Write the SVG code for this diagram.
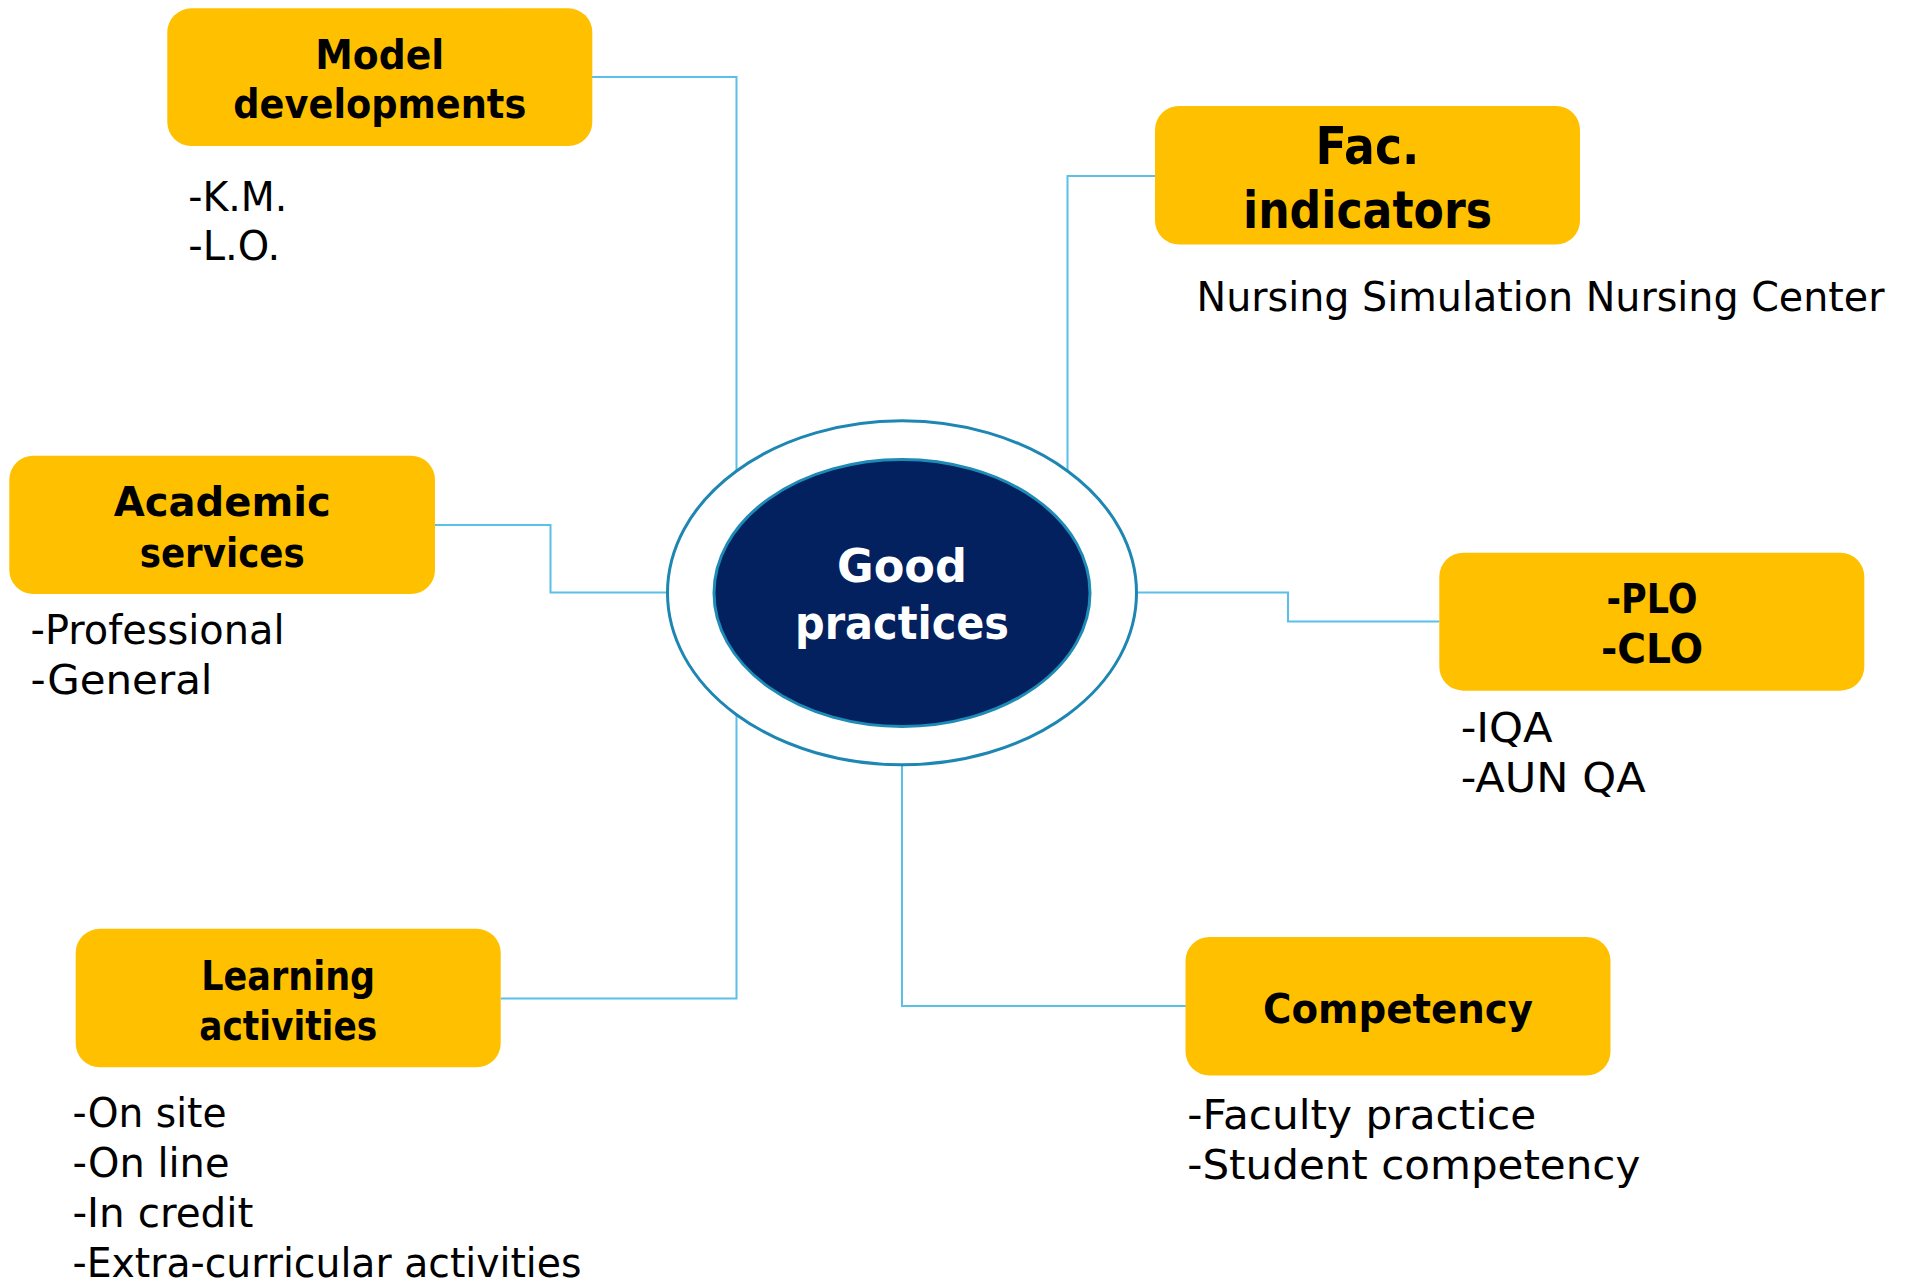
<svg xmlns="http://www.w3.org/2000/svg" width="1908" height="1282" viewBox="0 0 1908 1282">
<style>
.box{fill:#FFC000}
.bt{font-family:"DejaVu Sans","Liberation Sans",sans-serif;font-weight:bold;font-size:41px;fill:#000;text-anchor:middle}
.st{font-family:"DejaVu Sans","Liberation Sans",sans-serif;font-size:40px;fill:#000}
.conn{fill:none;stroke:#5BC0E8;stroke-width:2}
</style>
<rect width="1908" height="1282" fill="#fff"/>
<g id="connectors">
<path class="conn" d="M592,77 H736.5 V480"/>
<path class="conn" d="M435,525 H550.5 V592.5 H680"/>
<path class="conn" d="M1155,176 H1067.5 V490"/>
<path class="conn" d="M1120,592.5 H1288 V621.5 H1439.5"/>
<path class="conn" d="M500.6,998.5 H736.5 V700"/>
<path class="conn" d="M902,750 V1006 H1186"/>
</g>
<g id="center">
<ellipse cx="902" cy="592.8" rx="234.5" ry="172" fill="#fff" stroke="#1E86B2" stroke-width="3"/>
<ellipse cx="902" cy="593" rx="188" ry="133.5" fill="#02215E" stroke="#1E8AB6" stroke-width="3"/>
<text class="bt" x="902" y="582.3" font-size="47" fill="#fff" style="fill:#fff;font-size:47px" textLength="130" lengthAdjust="spacingAndGlyphs">Good</text>
<text class="bt" x="902" y="639.3" style="fill:#fff;font-size:47px" textLength="214" lengthAdjust="spacingAndGlyphs">practices</text>
</g>
<g id="model">
<rect class="box" x="167.3" y="8.3" width="425" height="137.7" rx="24"/>
<text class="bt" x="379.8" y="69" textLength="129" lengthAdjust="spacingAndGlyphs">Model</text>
<text class="bt" x="379.8" y="118.4" textLength="293" lengthAdjust="spacingAndGlyphs">developments</text>
<text class="st" x="188.3" y="210.7" textLength="99" lengthAdjust="spacingAndGlyphs">-K.M.</text>
<text class="st" x="188.3" y="260" textLength="92" lengthAdjust="spacingAndGlyphs">-L.O.</text>
</g>
<g id="fac">
<rect class="box" x="1155" y="106" width="425" height="138.5" rx="24"/>
<text class="bt" x="1367.5" y="164.4" style="font-size:51px" textLength="104" lengthAdjust="spacingAndGlyphs">Fac.</text>
<text class="bt" x="1367.5" y="227.7" style="font-size:51px" textLength="249" lengthAdjust="spacingAndGlyphs">indicators</text>
<text class="st" x="1196.5" y="311" textLength="688" lengthAdjust="spacingAndGlyphs">Nursing Simulation Nursing Center</text>
</g>
<g id="academic">
<rect class="box" x="9.3" y="455.7" width="425.7" height="138.3" rx="24"/>
<text class="bt" x="222.2" y="516.3" textLength="217" lengthAdjust="spacingAndGlyphs">Academic</text>
<text class="bt" x="222.2" y="566.6" textLength="165" lengthAdjust="spacingAndGlyphs">services</text>
<text class="st" x="30.5" y="644" textLength="254" lengthAdjust="spacingAndGlyphs">-Professional</text>
<text class="st" x="30.5" y="694" textLength="182" lengthAdjust="spacingAndGlyphs">-General</text>
</g>
<g id="plo">
<rect class="box" x="1439.3" y="552.7" width="425" height="138" rx="24"/>
<text class="bt" x="1652" y="612.7" textLength="91" lengthAdjust="spacingAndGlyphs">-PLO</text>
<text class="bt" x="1652" y="663.3" textLength="102" lengthAdjust="spacingAndGlyphs">-CLO</text>
<text class="st" x="1460.7" y="741.7" textLength="92" lengthAdjust="spacingAndGlyphs">-IQA</text>
<text class="st" x="1460.7" y="791.7" textLength="185" lengthAdjust="spacingAndGlyphs">-AUN QA</text>
</g>
<g id="learning">
<rect class="box" x="75.7" y="928.8" width="425" height="138.5" rx="24"/>
<text class="bt" x="288.2" y="990.3" textLength="174" lengthAdjust="spacingAndGlyphs">Learning</text>
<text class="bt" x="288.2" y="1039.5" textLength="178" lengthAdjust="spacingAndGlyphs">activities</text>
<text class="st" x="72.5" y="1126.6" textLength="154" lengthAdjust="spacingAndGlyphs">-On site</text>
<text class="st" x="72.5" y="1176.7" textLength="157" lengthAdjust="spacingAndGlyphs">-On line</text>
<text class="st" x="72.5" y="1226.8" textLength="181" lengthAdjust="spacingAndGlyphs">-In credit</text>
<text class="st" x="72.5" y="1276.7" textLength="509" lengthAdjust="spacingAndGlyphs">-Extra-curricular activities</text>
</g>
<g id="competency">
<rect class="box" x="1185.5" y="937" width="425" height="138.5" rx="24"/>
<text class="bt" x="1398" y="1022.7" textLength="270" lengthAdjust="spacingAndGlyphs">Competency</text>
<text class="st" x="1187.3" y="1129.2" textLength="349" lengthAdjust="spacingAndGlyphs">-Faculty practice</text>
<text class="st" x="1187.3" y="1178.5" textLength="453" lengthAdjust="spacingAndGlyphs">-Student competency</text>
</g>
</svg>
